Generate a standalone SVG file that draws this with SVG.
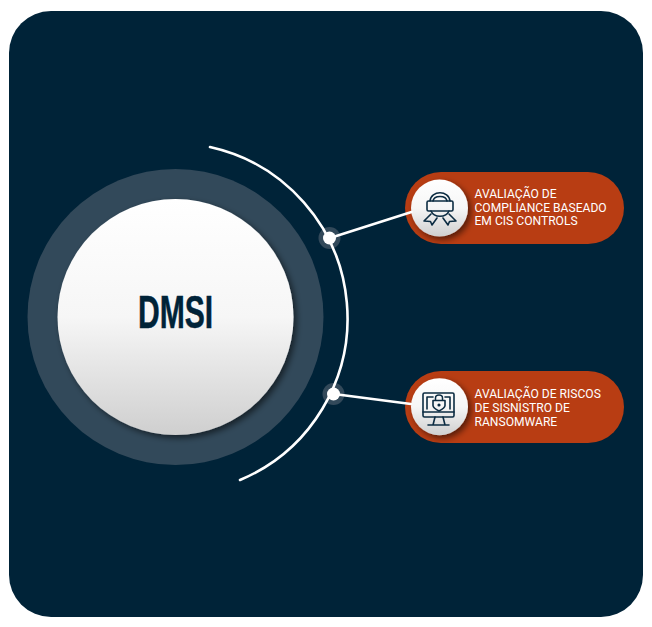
<svg xmlns="http://www.w3.org/2000/svg" width="652" height="627" viewBox="0 0 652 627">
<style>
.lbl{font-family:Roboto,"Liberation Sans",sans-serif;font-size:12.1px;fill:#fff}
.pill{fill:#b83d13}
.ico{fill:none;stroke:#0c2c42;stroke-width:1.6;stroke-linejoin:round;stroke-linecap:round}
.halo{fill:#32495a}
.dot{fill:#fff}
.conn{fill:none;stroke:#fff;stroke-width:2.6;stroke-linecap:round}
</style>
<defs>
<linearGradient id="g" x1="0" y1="0" x2="0" y2="1"><stop offset="0" stop-color="#fff"/><stop offset="0.5" stop-color="#f6f6f6"/><stop offset="1" stop-color="#cfcfcf"/></linearGradient>
<filter id="s" x="-20%" y="-20%" width="150%" height="150%"><feDropShadow dx="3" dy="3" stdDeviation="3" flood-color="#000" flood-opacity="0.55"/></filter>
</defs>
<rect id="panel" x="9" y="11" width="634" height="606" rx="42" fill="#002338"/>
<g id="hub">
<circle class="halo" cx="175.500" cy="317" r="148"/>
<circle cx="175.500" cy="317" r="118" fill="url(#g)" filter="url(#s)"/>
<text transform="translate(138,327.500) scale(0.64,1)" font-family="'Liberation Sans',Arial,sans-serif" font-weight="700" font-size="47" fill="#002338" stroke="#002338" stroke-width="0.5" stroke-linejoin="miter">DMSI</text>
</g>
<g id="node1">
<rect class="pill" x="405" y="172" width="219" height="72" rx="36"/>
<circle cx="439.500" cy="208" r="28.500" fill="url(#g)" filter="url(#s)"/>
<g class="ico">
<path d="M430 201C431 190 449 190 450 201M433 201C434 195 446 195 447 201M431 211C434 218 446 218 449 211"/>
<rect x="427" y="201" width="26" height="10" rx="1.500"/>
<path d="M431 214L424 221L430.500 221.500L432 225L437 218M449 214L456 221L449.500 221.500L448 225L443 218"/>
</g>
<text class="lbl"><tspan x="474.500" y="198.300">AVALIAÇÃO DE</tspan><tspan x="474.500" y="212">COMPLIANCE BASEADO</tspan><tspan x="474.500" y="225.300">EM CIS CONTROLS</tspan></text>
</g>
<g id="node2">
<rect class="pill" x="405" y="371" width="219" height="72" rx="36"/>
<circle cx="439.500" cy="406.700" r="28.500" fill="url(#g)" filter="url(#s)"/>
<g class="ico">
<rect x="423" y="393" width="31" height="24" rx="1.500"/>
<path d="M423 412H454M427 409V397H433M445 397H450V409M435 417L433 425M443 417L445 425M428 425H449"/>
<path d="M433 400.500H445V405.500C445 408 441 410 439 411C437 410 433 408 433 405.500Z"/>
<path d="M435.500 400V398C435.500 394 442.500 394 442.500 398V400" stroke-width="1.500"/>
<circle cx="439" cy="405" r="0.800"/>
</g>
<text class="lbl"><tspan x="474.500" y="398.300">AVALIAÇÃO DE RISCOS</tspan><tspan x="474.500" y="412">DE SISNISTRO DE</tspan><tspan x="474.500" y="426">RANSOMWARE</tspan></text>
</g>
<g id="dot1"><circle class="halo" cx="329.500" cy="238" r="11"/></g>
<g id="dot2"><circle class="halo" cx="333.500" cy="394" r="11"/></g>
<g id="connectors">
<path class="conn" d="M210 147A175.400 175.400 0 0 1 240 480"/>
<path class="conn" d="M330 238L411.500 212"/>
<path class="conn" d="M334 394L411 404"/>
</g>
<circle class="dot" cx="329.500" cy="238" r="6.500"/>
<circle class="dot" cx="333.500" cy="394" r="6.500"/>
</svg>
